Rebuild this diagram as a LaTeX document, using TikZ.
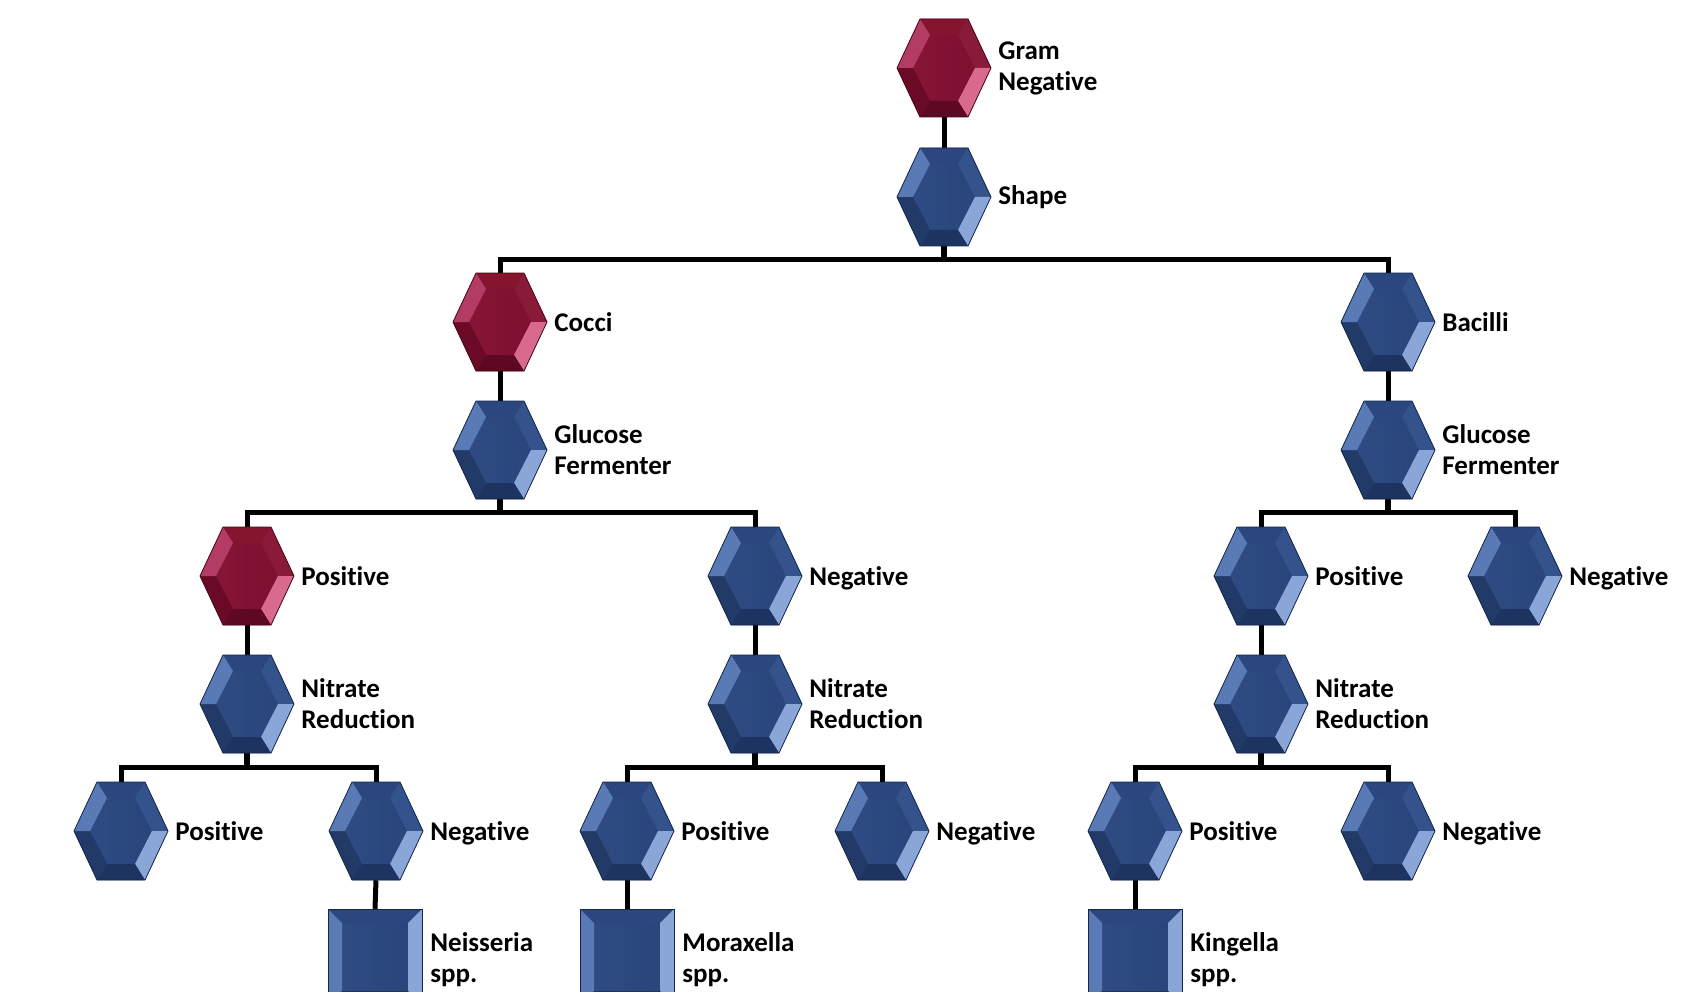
\documentclass[tikz,border=0pt]{standalone}
\usepackage{fontspec}
\setmainfont{Carlito}[Ligatures={NoCommon,NoContextual}]
\definecolor{rface}{HTML}{7C0E2E}
\definecolor{rfaceL}{HTML}{881638}
\definecolor{rtop}{HTML}{85142F}
\definecolor{rul}{HTML}{B23C64}
\definecolor{rll}{HTML}{6A0A26}
\definecolor{rur}{HTML}{8A1A3A}
\definecolor{rlr}{HTML}{D86A8E}
\definecolor{rbot}{HTML}{5E0922}
\definecolor{redge}{HTML}{4A0618}
\definecolor{bface}{HTML}{284479}
\definecolor{bfaceL}{HTML}{2F4D85}
\definecolor{btop}{HTML}{2C4780}
\definecolor{bul}{HTML}{5A7AB6}
\definecolor{bll}{HTML}{213A68}
\definecolor{bur}{HTML}{34538C}
\definecolor{blr}{HTML}{8AA6D8}
\definecolor{bbot}{HTML}{1D3460}
\definecolor{bedge}{HTML}{15264A}
\tikzset{
  pics/hex/.style={code={
    \shade[left color=#1faceL, right color=#1face] (-47,0)--(-24,-49)--(24,-49)--(47,0)--(24,49)--(-24,49)--cycle;
    \fill[#1top] (-24,-49)--(24,-49)--(14,-33)--(-14,-33)--cycle;
    \fill[#1ur] (24,-49)--(47,0)--(31,0)--(14,-33)--cycle;
    \fill[#1lr] (47,0)--(24,49)--(14,33)--(31,0)--cycle;
    \fill[#1bot] (24,49)--(-24,49)--(-14,33)--(14,33)--cycle;
    \fill[#1ll] (-24,49)--(-47,0)--(-31,0)--(-14,33)--cycle;
    \fill[#1ul] (-47,0)--(-24,-49)--(-14,-33)--(-31,0)--cycle;
    \draw[#1edge, line width=0.8pt, line join=round] (-47,0)--(-24,-49)--(24,-49)--(47,0)--(24,49)--(-24,49)--cycle;
  }},
  pics/sq/.style={code={
    \shade[left color=#1faceL, right color=#1face] (-47,-48) rectangle (47,48);
    \fill[#1top] (-47,-48)--(47,-48)--(33,-34)--(-33,-34)--cycle;
    \fill[#1ul] (-47,-48)--(-33,-34)--(-33,34)--(-47,48)--cycle;
    \fill[#1lr] (47,-48)--(33,-34)--(33,34)--(47,48)--cycle;
    \fill[#1bot] (-47,48)--(47,48)--(33,34)--(-33,34)--cycle;
    \draw[#1edge, line width=0.8pt] (-47,-48) rectangle (47,48);
  }}
}
\begin{document}
\begin{tikzpicture}[x=1pt,y=-1pt,
  conn/.style={line width=5pt, draw=black, line join=miter},
  stub/.style={line width=6.5pt, draw=black},
  hexbox/.style={rectangle, minimum width=94pt, minimum height=98pt, inner sep=0pt},
  sqbox/.style={rectangle, minimum width=94pt, minimum height=96pt, inner sep=0pt},
  lbl/.style={anchor=west, align=left, font=\bfseries\fontsize{27}{31}\selectfont, inner sep=0pt},
  lbln/.style={anchor=west, font=\bfseries\fontsize{27}{31}\selectfont, inner sep=0pt, text depth=0pt}]
\useasboundingbox (0,0) rectangle (1688,992);
\clip (0,0) rectangle (1688,992);
% nodes
\node[hexbox] (gn) at (944,68) {};
\node[hexbox] (sh) at (944,197) {};
\node[hexbox] (co) at (500,322) {};
\node[hexbox] (ba) at (1388,322) {};
\node[hexbox] (gfL) at (500,450) {};
\node[hexbox] (gfR) at (1388,450) {};
\node[hexbox] (posA) at (247,576) {};
\node[hexbox] (negA) at (755,576) {};
\node[hexbox] (posB) at (1261,576) {};
\node[hexbox] (negB) at (1515,576) {};
\node[hexbox] (nrA) at (247,704) {};
\node[hexbox] (nrB) at (755,704) {};
\node[hexbox] (nrC) at (1261,704) {};
\node[hexbox] (p1) at (121,831) {};
\node[hexbox] (n1) at (376,831) {};
\node[hexbox] (p2) at (627,831) {};
\node[hexbox] (n2) at (882,831) {};
\node[hexbox] (p3) at (1135,831) {};
\node[hexbox] (n3) at (1388,831) {};
\node[sqbox] (neis) at (375,957) {};
\node[sqbox] (mora) at (627,957) {};
\node[sqbox] (king) at (1135,957) {};
% connectors
\draw[conn] (gn.south) -- (sh.north);
\draw[stub] (sh.south) -- ++(0,13) coordinate (j1);
\draw[conn] (co.north) |- (j1) -| (ba.north);
\draw[conn] (co.south) -- (gfL.north);
\draw[conn] (ba.south) -- (gfR.north);
\draw[stub] (gfL.south) -- ++(0,13) coordinate (j2);
\draw[conn] (posA.north) |- (j2) -| (negA.north);
\draw[stub] (gfR.south) -- ++(0,13) coordinate (j3);
\draw[conn] (posB.north) |- (j3) -| (negB.north);
\draw[conn] (posA.south) -- (nrA.north);
\draw[conn] (negA.south) -- (nrB.north);
\draw[conn] (posB.south) -- (nrC.north);
\draw[stub] (nrA.south) -- ++(0,14) coordinate (j4);
\draw[conn] (p1.north) |- (j4) -| (n1.north);
\draw[stub] (nrB.south) -- ++(0,14) coordinate (j5);
\draw[conn] (p2.north) |- (j5) -| (n2.north);
\draw[stub] (nrC.south) -- ++(0,14) coordinate (j6);
\draw[conn] (p3.north) |- (j6) -| (n3.north);
\draw[conn] (n1.south) -- (neis.north);
\draw[conn] (p2.south) -- (mora.north);
\draw[conn] (p3.south) -- (king.north);
% shapes
\pic at (gn) {hex=r};
\pic at (sh) {hex=b};
\pic at (co) {hex=r};
\pic at (ba) {hex=b};
\pic at (gfL) {hex=b};
\pic at (gfR) {hex=b};
\pic at (posA) {hex=r};
\pic at (negA) {hex=b};
\pic at (posB) {hex=b};
\pic at (negB) {hex=b};
\pic at (nrA) {hex=b};
\pic at (nrB) {hex=b};
\pic at (nrC) {hex=b};
\pic at (p1) {hex=b};
\pic at (n1) {hex=b};
\pic at (p2) {hex=b};
\pic at (n2) {hex=b};
\pic at (p3) {hex=b};
\pic at (n3) {hex=b};
\pic at (neis) {sq=b};
\pic at (mora) {sq=b};
\pic at (king) {sq=b};
% labels
\node[lbl] at ([xshift=7pt]gn.east) {Gram\\Negative};
\node[lbl] at ([xshift=7pt]sh.east) {Shape};
\node[lbl] at ([xshift=7pt]co.east) {Cocci};
\node[lbl] at ([xshift=7pt]ba.east) {Bacilli};
\node[lbl] at ([xshift=7pt]gfL.east) {Glucose\\Fermenter};
\node[lbl] at ([xshift=7pt]gfR.east) {Glucose\\Fermenter};
\node[lbl] at ([xshift=7pt]posA.east) {Positive};
\node[lbln] at ([xshift=7pt]negA.east) {Negative};
\node[lbl] at ([xshift=7pt]posB.east) {Positive};
\node[lbln] at ([xshift=7pt]negB.east) {Negative};
\node[lbl] at ([xshift=7pt]nrA.east) {Nitrate\\Reduction};
\node[lbl] at ([xshift=7pt]nrB.east) {Nitrate\\Reduction};
\node[lbl] at ([xshift=7pt]nrC.east) {Nitrate\\Reduction};
\node[lbl] at ([xshift=7pt]p1.east) {Positive};
\node[lbln] at ([xshift=7pt]n1.east) {Negative};
\node[lbl] at ([xshift=7pt]p2.east) {Positive};
\node[lbln] at ([xshift=7pt]n2.east) {Negative};
\node[lbl] at ([xshift=7pt]p3.east) {Positive};
\node[lbln] at ([xshift=7pt]n3.east) {Negative};
\node[lbl] at ([xshift=8pt,yshift=-3pt]neis.east) {Neisseria\\spp.};
\node[lbl] at ([xshift=8pt,yshift=-3pt]mora.east) {Moraxella\\spp.};
\node[lbl] at ([xshift=8pt,yshift=-3pt]king.east) {Kingella\\spp.};
\end{tikzpicture}
\end{document}
